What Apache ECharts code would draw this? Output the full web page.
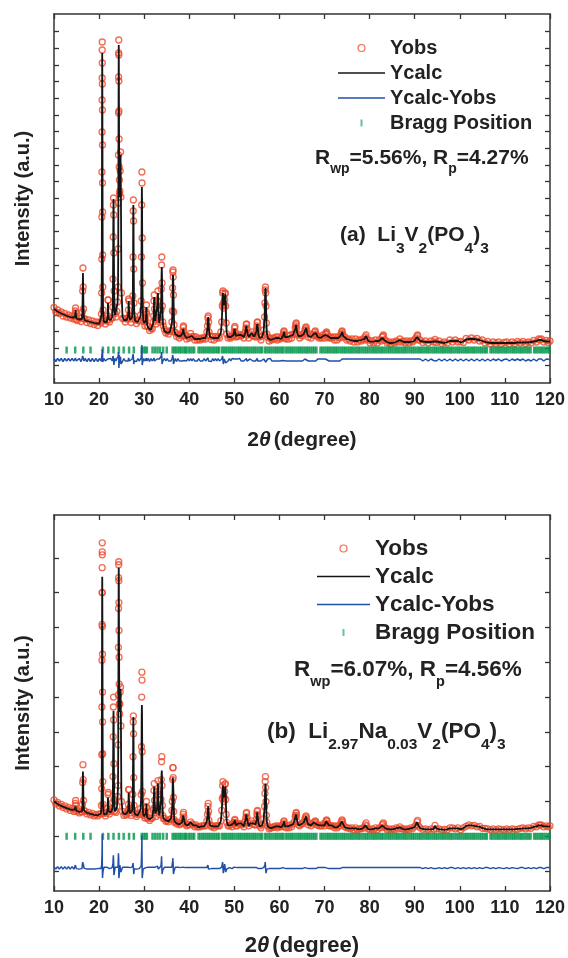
<!DOCTYPE html>
<html>
<head>
<meta charset="utf-8">
<script src="https://cdn.jsdelivr.net/npm/echarts@6/dist/echarts.min.js"></script>
<style>html,body{margin:0;padding:0;background:#fff}#c{width:568px;height:958px}</style>
</head>
<body>
<div id="c"></div>
<script>
// ---------------- DATA ----------------
// 2-theta grid (degrees), shared by both refinements
const tt = [
10,10.4,10.8,11.2,11.6,12,12.4,12.8,13.2,13.6,14,14.4,
14.65,14.75,14.8,14.85,14.95,15.2,15.6,16.0,16.2,
16.3,16.36,16.42,16.48,16.55,16.65,16.9,17.3,17.7,18.1,18.5,18.9,19.3,19.7,20.1,20.4,
20.52,20.57,20.6,20.62,20.64,20.655,20.67,20.68,20.69,20.7,20.71,20.72,20.735,20.75,20.765,20.78,20.8,20.83,20.88,20.96,
21.1,21.4,21.7,21.9,21.97,22.03,22.1,22.3,22.6,22.9,
23.02,23.08,23.13,23.17,23.2,23.24,23.28,23.33,23.4,23.55,23.75,23.95,24.1,
24.2,24.24,24.27,24.29,24.31,24.33,24.345,24.36,24.375,24.39,24.41,24.43,24.46,24.5,24.55,24.6,24.68,24.76,24.84,24.95,
25.2,25.5,25.8,26.1,26.4,26.5,26.56,26.62,26.7,26.85,27.1,27.35,
27.48,27.53,27.57,27.6,27.64,27.68,27.74,27.82,28.0,28.3,28.6,28.9,29.2,
29.34,29.4,29.45,29.49,29.52,29.56,29.61,29.68,29.76,29.9,30.15,30.35,30.45,30.5,30.56,30.65,
30.9,31.2,31.5,31.8,32.0,
32.1,32.17,32.23,32.3,32.45,32.65,32.85,32.98,33.05,33.12,33.2,33.35,33.55,33.72,33.8,33.86,33.91,33.96,34.03,34.12,34.25,
34.5,34.8,35.1,35.4,35.7,35.95,36.15,36.25,36.31,36.36,36.4,36.44,36.49,36.55,36.63,36.72,
36.9,37.2,37.5,37.8,38.1,38.4,38.55,38.65,38.72,38.8,38.92,
39.1,39.4,39.7,40.0,40.3,40.6,40.9,41.2,41.5,41.8,42.1,42.4,42.7,43.0,43.3,43.6,43.9,
44.05,44.13,44.2,44.28,44.38,44.6,44.9,45.2,45.5,45.8,46.1,46.4,46.7,47.0,47.2,
47.32,47.4,47.47,47.55,47.65,47.75,47.85,47.93,48.0,48.08,48.18,48.3,
48.6,48.9,49.2,49.5,49.8,49.95,50.05,50.12,50.2,50.35,50.6,50.9,51.2,51.5,51.8,52.1,52.4,
52.55,52.65,52.72,52.8,52.95,53.2,53.5,53.8,54.1,54.4,54.7,54.9,55.0,55.07,55.13,55.2,55.35,
55.6,55.9,56.2,56.5,56.7,56.78,56.84,56.9,56.95,57.02,57.1,57.2,
57.4,57.7,58.0,58.3,58.6,58.9,59.2,59.5,59.8,60.1,60.4,60.7,60.88,60.95,61.02,61.1,61.22,
61.5,61.8,62.1,62.4,62.7,63.0,63.3,63.5,63.6,63.67,63.73,63.8,63.95,64.2,64.5,64.8,65.1,65.4,65.65,
65.8,65.9,66.0,66.15,66.4,66.7,67.0,67.3,67.6,67.85,67.95,68.05,68.2,
68.5,68.8,69.1,69.4,69.7,70.0,70.2,70.35,70.45,70.55,70.7,71.0,71.3,71.6,71.9,72.2,72.5,72.8,73.1,73.4,73.65,
73.8,73.9,74.0,74.15,74.5,74.9,75.3,75.7,76.1,76.5,76.9,77.3,77.7,78.1,78.5,78.85,79.05,79.2,79.35,
79.7,80.1,80.5,80.9,81.3,81.7,82.1,82.5,82.8,82.95,83.05,83.2,
83.5,83.9,84.3,84.7,85.1,85.5,85.9,86.3,86.7,87.1,87.5,87.9,88.3,88.7,89.1,89.5,89.9,90.3,90.5,90.65,90.8,
91.2,91.8,92.4,93.0,93.6,94.2,94.5,94.8,95.4,96.0,96.6,97.2,97.8,
98.4,99.0,99.6,100.2,100.8,101.4,102.0,102.6,103.2,103.8,104.4,105.0,105.6,
106.2,106.8,107.4,108.0,108.6,109.2,109.8,110.4,111.0,111.6,112.2,112.8,113.4,
114.0,114.6,115.2,115.8,116.4,117.0,117.5,117.8,118.1,118.6,119.2,119.6,120.0
];

// (a) Li3V2(PO4)3 — calculated and observed intensity (a.u.)
const calcA = [
74,72.5,71.5,70.5,69.5,68.5,68,67,66.5,66,65.5,65,
66,70,73,69,64.5,64,63.5,63,64,
70,88,110,92,72,65,62.5,62,61.5,61,60.5,60,59.5,59,59.5,61,
68,88,120,160,210,250,285,308,325,330,318,300,272,240,200,165,130,100,75,65,
61,60,61,66,80,82,64,62,63,66,
75,100,140,172,184,170,135,95,72,68,67,70,80,
95,130,175,220,262,300,325,338,330,310,280,250,220,198,186,190,215,228,190,95,
66,63,62,63,66,72,82,81,68,63,62,66,
85,120,165,178,160,118,82,68,62,61,61,63,67,
80,120,170,196,185,150,105,75,66,60,58,62,70,76,70,58,
55,54,53,55,60,
66,80,86,75,62,60,64,80,90,82,66,60,62,72,90,110,116,104,80,62,56,
52,51,50,50,51,53,60,70,90,105,108,104,92,75,60,52,
49,48,47,46,47,48,50,54,56,53,48,
46,45,45,46,48,47,45,44,45,44,43,44,44,45,44,45,50,
56,63,66,62,52,46,45,45,44,45,46,45,46,50,60,
75,86,90,84,78,77,80,86,89,80,62,50,
46,45,46,45,48,50,54,55,52,47,46,48,47,48,47,46,50,
54,57,58,55,49,46,48,50,48,46,47,52,56,59,60,56,48,
45,44,46,52,65,78,90,95,92,80,62,50,
45,43,43,44,44,45,45,44,45,45,44,46,48,50,51,49,46,
45,46,45,47,46,48,50,54,56,58,59,56,50,47,46,47,48,49,52,
54,55,54,50,47,48,46,47,49,50,51,50,48,
46,46,45,46,47,46,48,49,50,50,47,46,45,46,45,44,45,44,45,46,48,
50,51,50,47,45,44,43,43,43,42,43,42,42,43,43,44,45,47,45,
42,41,41,41,42,41,42,43,45,46,47,44,
42,41,40,40,40,41,41,42,43,42,41,41,41,41,41,42,42,44,46,47,44,
42,41.5,41,41,41,41.5,42.5,41.5,41,40.5,40,41,42,
42,42,42,40.5,41.5,43.5,44,44,44,43.5,43,42,41,
40.5,40,40,40,40,40,40,40,40,40,40,40.5,40.5,
40.5,40.5,40.5,41,41.5,42,43,43.5,43,42,41.5,41.5,41.5
];
const obsA = [
75.5,71,73,69.5,71,67,69.5,66,68,65,67,64,
67,72,75,70,63.5,62.5,65,61.5,65,
71,92,115,96,74,64,64,60.5,63,59.5,62,58.5,61,57.5,61,60,
69,90,124,166,211,251,283,305,333,341,320,299,273,238,200,171,128,96,73,65,
62.5,59,62,67,83,83,63,61,64.5,65,
76,104,146,178,185,168,130,92,71,69.5,66,71.5,81,
96,134,180,228,270,306,330,343,328,302,272,244,216,203,189,192,212,231,186,90,
64.5,64.5,61,64,65,73,84,82,67,64,60.5,67,
87,126,172,183,162,114,80,67,63,59.5,62.5,62,68,
82,126,178,211,200,145,100,73,65,61.5,57,63,71,78,69,57,
56.5,52.5,54.5,54,61,
67,82,88,74,63,59,65,82,92,81,65,61,63,73,94,118,126,100,77,61,57,
53.5,50,51.5,49,52,52,61,72,95,111,113,106,88,71,58,51,
50.5,46.5,48.5,45,48,47,51,55.5,57,52,47.5,
47.5,44,46.5,45,49.5,46,46.5,43,46,43,44.5,43,45,44,45.5,44,51,
57,65,67,61,51,47,43.5,46.5,43,46.5,45,46.5,45,51,61,
77,90,92,80,75,78,83,89,90,77,60,49,
45,46.5,45,46.5,47.5,51,55,56.5,51,46,47,47,48.5,47,48,45,51,
55,58.5,59,54,48,45,49,51,47,47,46,53,57,60.5,61,55,47,
46,43,47,53,66,80,93,96,90,77,60,49,
46,42,44.5,43,45,44,46,43,46,44,45,45.5,49,51,52,48,45,
44,47,44,48,45,49,49,55,57,59,60,55,49,48,45,48,47,50,53,
55,56,53,49,46,49,45,48,48,51,52,49,47,
47,45,46,45,48,45,49,50,51,49,46,45,46,45,46,43,46,43,46,45,49,
51,52,49,46,46,43,44,42,44,41,44,41,43,42,44,43,46,48,44,
43,40,42,40,43,40,43,42,46,47,48,43,
43,40,41,39,41,40,42,41,44,41,42,40,42,40,42,41,43,45,47,48,43,
43,40.5,42,40,42,41,43.5,40.5,42,39.5,41,40,43,
41,43,41,41.5,40.5,44.5,43,45,43,44.5,42,43,40,
41.5,39,41,39.5,41,39,40.5,41,39,41,39.5,41.5,40,
41.5,39.5,41,40,42.5,41,44,43,44,41,42.5,40.5,42
];

// (b) Li2.97Na0.03V2(PO4)3 — calculated and observed intensity (a.u.)
const calcB = [
90,88.5,87.5,86.5,85.5,85,84,83.5,82.5,82,81.5,81,
82,85,86,84,80.5,80,79.5,79,80,
86,103,120,106,88,81,79,78.5,78,77.5,77,76.5,76,76,76.5,78,
85,100,130,175,220,255,285,300,310,316,308,296,270,245,210,180,145,115,90,80,
77,76.5,77.5,82,94,96,80,78,79,82,
88,110,145,172,181,168,135,100,84,80,80,84,94,
105,140,185,230,268,300,318,325,318,300,272,245,215,192,180,185,195,203,170,92,
79,77,76.5,77,80,86,99,100,84,78,77,81,
95,130,165,175,160,120,90,80,77,76,76,78,82,
95,135,175,187,180,150,110,85,78,75,74,78,83,88,84,74,
73,72,72,74,80,
82,98,105,92,78,76,82,98,108,98,82,76,78,90,106,118,121,112,92,78,73,
72,71,70,70,71,73,80,88,105,114,116,112,100,86,75,70,
69,68,68,67,67,69,71,76,78,75,70,
67,66,66,67,69,68,66,65,66,65,64,65,65,66,65,66,70,
76,82,85,81,72,66,65,65,64,65,66,65,66,70,80,
90,100,106,100,94,93,96,102,105,96,80,70,
66,65,66,65,68,68,70,71,69,66,65,68,67,68,66,65,70,
73,77,78,75,69,65,68,70,68,66,67,72,76,79,80,77,68,
65,64,66,72,84,95,104,108,105,95,80,70,
65,63,63,64,64,65,65,64,65,65,64,66,67,69,70,68,65,
64,65,64,66,65,67,70,74,75,77,78,76,70,66,66,67,68,69,72,
74,75,74,70,67,68,66,67,69,69,70,70,67,
66,66,65,66,67,66,68,70,71,71,68,66,65,66,65,64,65,64,65,66,68,
70,71,70,67,64,64,63,63,63,62,63,62,62,63,63,64,66,68,66,
62,62,62,62,63,62,63,64,66,67,68,65,
63,62,62,62,62,62,63,63,64,63,62,62,62,62,63,63,64,66,69,70,66,
63,62.5,62,62,62,62.5,65.5,63,62,62,61.5,62,63,
63,63,63,62,63,65.5,66,66,65.5,65,64.5,63.5,62.5,
62,62,62,62,62,62,62,62,62,62,62,62.5,62.5,
63,63,63,63.5,64.5,65,66,66.5,66,65,65,65,65
];
const obsB = [
91.5,87.5,89,85.5,87,84,85.5,82.5,84,81,83,80,
83,88,91,86,80,81,78.5,80,79.5,
87,109,127,112,91,81,80,77.5,79,76.5,78,75.5,77,75.5,77.5,77.5,
86,103,137,185,232,268,300,325,341,350,338,300,266,238,200,170,138,110,87,79,
78,75.5,78.5,83,97,99,80,77.5,80,82.5,
89,115,155,185,195,172,128,92,80,81,79,85,95,
106,147,197,245,284,315,328,331,312,290,262,235,208,188,178,188,200,205,166,90,
80,76,77.5,76.5,81,87,102,102,83,78.5,76,82,
97,135,170,176,158,114,86,79,77.5,75,77,77.5,83,
97,145,195,220,212,140,100,80,77,76,73.5,78.5,84,90,84,73,
74,71,73,73.5,81,
83,101,108,91,79,75,83,100,111,97,81,77,79,92,112,130,135,106,86,76,73,
73,70,71,69.5,72,72.5,81,90,112,124,124,114,94,80,72,69,
70,67.5,69,66.5,67.5,68.5,72,77,79,74.5,69.5,
67.5,65.5,66.5,66.5,69.5,67.5,66.5,64.5,66.5,64.5,64.5,64.5,65.5,65.5,65.5,65.5,70.5,
77,85,88,80,71,66.5,64.5,65.5,63.5,65.5,65.5,65.5,65.5,70.5,81,
93,106,110,95,90,94,100,107,108,92,77,69,
65.5,65.5,66.5,64.5,68.5,69,71,72,68.5,65.5,65.5,67.5,67.5,67.5,66.5,64.5,70.5,
74,78,79,74.5,68.5,65.5,68.5,70.5,67.5,66.5,66.5,72.5,77,80,81,76,67.5,
65.5,63.5,66.5,72.5,85,98,110,115,104,90,76,69,
65.5,62.5,63.5,63.5,64.5,64.5,65.5,63.5,65.5,64.5,64.5,66.5,67.5,69.5,70.5,67.5,64.5,
63.5,65.5,63.5,66.5,64.5,67.5,69.5,74.5,76,78,79,75.5,69.5,66.5,65.5,67.5,67.5,69.5,72.5,
74.5,75.5,73.5,69.5,66.5,68.5,65.5,67.5,68.5,69.5,70.5,69.5,66.5,
66.5,65.5,65.5,65.5,67.5,65.5,68.5,70.5,71.5,70.5,67.5,65.5,65.5,65.5,65.5,63.5,65.5,63.5,65.5,65.5,68.5,
70.5,71.5,69.5,66.5,64.5,63.5,63.5,62.5,63.5,61.5,63.5,61.5,62.5,62.5,63.5,63.5,66.5,68.5,65.5,
62.5,61.5,62.5,61.5,63.5,61.5,63.5,63.5,66.5,67.5,68.5,64.5,
63.5,61.5,62.5,61.5,62.5,61.5,63.5,62.5,64.5,62.5,62.5,61.5,62.5,61.5,63.5,62.5,64.5,66.5,69.5,71,65.5,
63.5,62,62.5,61.5,62.5,62,66,62.5,62.5,61.5,62,61.5,63.5,
63.5,62.5,63.5,61.5,63.5,65,66.5,65.5,66,64.5,65,63,63,
62.5,61.5,62.5,61.5,62.5,62,61.5,62.5,61.5,62.5,62,62,63,
63.5,62.5,63.5,63,65,64.5,66.5,66,66.5,64.5,65.5,64.5,65.5
];

// Bragg reflection positions (2-theta, degrees)
const braggPos = [
12.8,14.7,16.5,18.1,20.85,22.05,23.2,24.4,25.45,26.65,27.7,29.45,29.85,30.25,30.6,31.85,32.4,32.95,33.5,34.2,35.0,
36.3,36.7,37.05,37.5,37.9,38.25,38.7,39.1,39.35,39.85,40.25,40.7,41.1,42.05,42.45,42.9,43.3,43.75,44.2,44.6,45.05,45.45,45.9,46.3,46.65,
47.3,47.7,48.1,48.55,49.0,49.4,49.8,50.25,50.7,51.1,51.5,51.95,52.4,52.8,53.2,53.65,54.1,54.5,54.9,55.35,55.8,56.1,
56.75,57.15,57.6,58.0,58.45,58.9,59.3,59.7,60.15,60.55,60.9,61.45,61.85,62.3,62.7,63.1,63.55,64.0,64.4,64.8,65.25,65.7,66.1,66.5,66.95,67.4,67.8,68.2,
69.1,69.5,69.95,70.4,70.8,71.2,71.65,72.1,72.5,72.9,73.35,73.8,74.2,74.6,75.05,75.5,75.9,76.3,76.75,77.2,77.6,78.0,78.45,78.9,79.3,79.7,
80.15,80.6,81.0,81.4,81.85,82.3,82.7,83.1,83.55,84.0,84.4,84.8,85.25,85.7,86.1,86.5,86.95,87.4,87.8,88.2,88.65,89.1,89.5,89.9,
90.35,90.8,91.2,91.6,92.05,92.5,92.9,93.3,93.75,94.2,94.6,95.0,95.45,95.9,96.3,96.7,97.15,97.6,98.0,98.4,98.85,99.3,99.7,
100.1,100.55,101.0,101.4,101.8,102.25,102.7,103.1,103.5,103.95,104.4,104.8,105.2,105.65,106.0,106.8,107.2,107.65,108.1,108.5,108.9,109.35,109.8,
110.2,110.6,111.05,111.5,111.9,112.3,112.75,113.2,113.6,114.0,114.45,114.9,115.3,115.7,116.5,116.9,117.35,117.8,118.2,118.6,119.05,119.5,119.9
];

// value levels for the difference curve and Bragg markers (a.u.)
const diffBaseA = 23, diffBaseB = 23;
const braggLevelA = 33, braggLevelB = 55;

// axis ranges and tick values
const xMin = 10, xMax = 120, xStep = 10;
const yRangeA = [0, 369], yRangeB = [0, 378];
const yTicksA = [18,34.7,51.3,68,84.7,101.3,118,134.7,151.3,168,184.7,201.3,218,234.7,251.3,268,284.7,301.3,318,334.7,351.3];
const yTicksB = [20,55,90,125,160,195,230,265,300,335];

// ---------------- CHART ----------------
const F = '"Liberation Sans", Arial, Helvetica, sans-serif';
const INK = '#222';
const C_OBS = '#ec4a2a', C_CALC = '#141414', C_DIFF = '#1f4fa6', C_BRAGG = '#00964a';

const chart = echarts.init(document.getElementById('c'), null, {renderer: 'canvas'});

function xAx(gi, top, showName, nameGap, nameSize) {
  return {
    type: 'value', gridIndex: gi, position: top ? 'top' : 'bottom',
    min: xMin, max: xMax, interval: xStep,
    axisLine: {show: true, onZero: false, lineStyle: {color: '#333', width: 1.5}},
    axisTick: {show: true, inside: true, length: 5, lineStyle: {color: '#333', width: 1.3}},
    axisLabel: {show: !top, margin: 8, fontSize: 18, fontWeight: 'bold', color: INK, fontFamily: F},
    splitLine: {show: false},
    name: showName ? '{n|2}{t|θ}{n|(degree)}' : '',
    nameLocation: 'middle', nameGap: nameGap,
    nameTextStyle: {
      rich: {
        n: {fontSize: nameSize, fontWeight: 'bold', color: INK, fontFamily: F},
        t: {fontSize: nameSize, fontWeight: 'bold', fontStyle: 'italic', color: INK, fontFamily: F, padding: [0, 3, 0, 0]}
      }
    }
  };
}
function yAx(gi, right, range, ticks) {
  return {
    type: 'value', gridIndex: gi, position: right ? 'right' : 'left',
    min: range[0], max: range[1],
    axisLine: {show: true, onZero: false, lineStyle: {color: '#333', width: 1.5}},
    axisTick: {show: true, inside: true, length: 5, customValues: ticks, lineStyle: {color: '#333', width: 1.3}},
    axisLabel: {show: false},
    splitLine: {show: false},
    name: right ? '' : 'Intensity (a.u.)',
    nameLocation: 'middle', nameGap: 21,
    nameTextStyle: {fontSize: 20, fontWeight: 'bold', color: INK, fontFamily: F}
  };
}

function panelSeries(xi, yi, calc, obs, diffBase, braggLevel) {
  return [
    {
      name: 'Yobs', type: 'scatter', xAxisIndex: xi, yAxisIndex: yi,
      data: tt.map((x, i) => [x, obs[i]]),
      symbol: 'circle', symbolSize: 6,
      itemStyle: {color: 'rgba(0,0,0,0)', borderColor: C_OBS, borderWidth: 1.3},
      z: 2, silent: true
    },
    {
      name: 'Ycalc', type: 'line', xAxisIndex: xi, yAxisIndex: yi,
      data: tt.map((x, i) => [x, calc[i]]),
      symbol: 'none', showSymbol: false,
      lineStyle: {color: C_CALC, width: 1.8}, itemStyle: {color: C_CALC},
      z: 4, silent: true
    },
    {
      name: 'Ycalc-Yobs', type: 'line', xAxisIndex: xi, yAxisIndex: yi,
      data: tt.map((x, i) => [x, obs[i] - calc[i] + diffBase]),
      symbol: 'none', showSymbol: false,
      lineStyle: {color: C_DIFF, width: 1.5}, itemStyle: {color: C_DIFF},
      z: 4, silent: true
    },
    {
      name: 'Bragg Position', type: 'scatter', xAxisIndex: xi, yAxisIndex: yi,
      data: braggPos.map(x => [x, braggLevel]),
      symbol: 'rect', symbolSize: [2.5, 7],
      itemStyle: {color: C_BRAGG},
      z: 3, silent: true
    }
  ];
}

function legendData(w) {
  const bar = 'path://M0,0H' + w + 'V1.6H0Z';
  return [
    {name: 'Yobs', icon: 'circle', itemStyle: {color: 'rgba(0,0,0,0)', borderColor: C_OBS, borderWidth: 1.2}},
    {name: 'Ycalc', icon: bar, itemStyle: {color: C_CALC}},
    {name: 'Ycalc-Yobs', icon: bar, itemStyle: {color: C_DIFF}},
    {name: 'Bragg Position', icon: 'path://M0,0H2V7H0Z', itemStyle: {color: '#3cb878'}}
  ];
}

function richTxt(x, y, text, mainSize, subSize, subPad) {
  return {
    type: 'text', x: x, y: y, silent: true,
    style: {
      text: text, align: 'left', verticalAlign: 'middle',
      rich: {
        m: {fontSize: mainSize, fontWeight: 'bold', fontFamily: F, fill: INK, color: INK},
        s: {fontSize: subSize, fontWeight: 'bold', fontFamily: F, fill: INK, color: INK, lineHeight: subSize, padding: [subPad, 0, 0, 0]}
      }
    }
  };
}

const option = {
  animation: false,
  backgroundColor: '#fff',
  grid: [
    {left: 54, top: 14, width: 496, height: 369},
    {left: 54, top: 515, width: 496, height: 378}
  ],
  xAxis: [xAx(0, false, true, 47, 21), xAx(0, true, false, 0, 21), xAx(1, false, true, 44, 22), xAx(1, true, false, 0, 22)],
  yAxis: [yAx(0, false, yRangeA, yTicksA), yAx(0, true, yRangeA, yTicksA), yAx(1, false, yRangeB, yTicksB), yAx(1, true, yRangeB, yTicksB)],
  legend: [
    {
      orient: 'vertical', left: 333, top: 33, itemWidth: 47, itemHeight: 7, itemGap: 5,
      selectedMode: false, data: legendData(47),
      textStyle: {fontSize: 20, fontWeight: 'bold', color: INK, fontFamily: F, lineHeight: 20}
    },
    {
      orient: 'vertical', left: 312, top: 532, itemWidth: 53, itemHeight: 7, itemGap: 5,
      selectedMode: false, data: legendData(53),
      textStyle: {fontSize: 22.5, fontWeight: 'bold', color: INK, fontFamily: F, lineHeight: 22}
    }
  ],
  graphic: [
    richTxt(315, 158, '{m|R}{s|wp}{m|=5.56%, R}{s|p}{m|=4.27%}', 21, 14, 22),
    richTxt(340, 235.5, '{m|(a)  Li}{s|3}{m|V}{s|2}{m|(PO}{s|4}{m|)}{s|3}', 21, 15.5, 27),
    richTxt(294, 670, '{m|R}{s|wp}{m|=6.07%, R}{s|p}{m|=4.56%}', 22.5, 14.5, 23),
    richTxt(267, 731.7, '{m|(b)  Li}{s|2.97}{m|Na}{s|0.03}{m|V}{s|2}{m|(PO}{s|4}{m|)}{s|3}', 22.5, 15.5, 27)
  ],
  series: [].concat(
    panelSeries(0, 0, calcA, obsA, diffBaseA, braggLevelA),
    panelSeries(2, 2, calcB, obsB, diffBaseB, braggLevelB)
  )
};
chart.setOption(option);

[calcA, obsA, calcB, obsB].forEach(function (a, k) {
  if (a.length !== tt.length) throw new Error('length mismatch in array ' + k + ': ' + a.length + ' vs ' + tt.length);
});
</script>
</body>
</html>
